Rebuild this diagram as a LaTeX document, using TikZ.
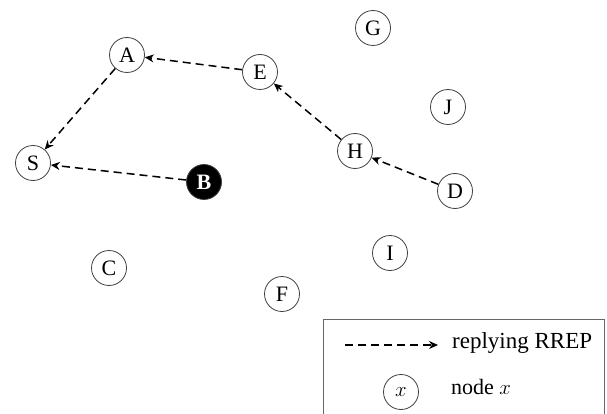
\documentclass[tikz,border=0pt]{standalone}
\usepackage{fontspec}
\setmainfont{Liberation Serif}
\usetikzlibrary{arrows.meta}
\begin{document}
\begin{tikzpicture}[x=1pt,y=-1pt,
  nd/.style={circle,draw=black!75,line width=0.8pt,minimum size=35pt,inner sep=0pt,font=\fontsize{22}{24}\selectfont},
  bnd/.style={nd,fill=black,text=white,font=\fontsize{22}{24}\selectfont\bfseries},
  rrep/.style={draw,line width=1.5pt,dash pattern=on 8pt off 5pt,-{Stealth[length=9pt,width=8pt]}}]
\useasboundingbox (0,0) rectangle (607,414);
\node[nd] (A) at (127,55) {A};
\node[nd] (E) at (260,72) {E};
\node[nd] (G) at (373,28) {G};
\node[nd] (J) at (448,107) {J};
\node[nd] (H) at (355,151) {H};
\node[nd] (D) at (455,191) {D};
\node[nd] (S) at (33,163) {S};
\node[bnd] (B) at (204,182) {B};
\node[nd] (C) at (109,268) {C};
\node[nd] (I) at (390,253) {I};
\node[nd] (F) at (282,294) {F};
\draw[rrep] (D) -- (H);
\draw[rrep] (H) -- (E);
\draw[rrep] (E) -- (A);
\draw[rrep] (A) -- (S);
\draw[rrep] (B) -- (S);
\node[draw=black!60,line width=1pt,minimum width=281pt,minimum height=100pt,anchor=north west,inner sep=0pt] (leg) at (323,319) {};
\coordinate (l1) at (345,345);
\coordinate (l2) at (438,345);
\draw[rrep] (l1) -- (l2);
\node[anchor=west,inner sep=0pt,font=\fontsize{23}{25}\selectfont] (t1) at (452,343) {replying RREP};
\node[nd] (lx) at (401,392) {$x$};
\node[anchor=west,inner sep=0pt,font=\fontsize{22}{24}\selectfont] (t2) at (451,387) {node $x$};
\end{tikzpicture}
\end{document}
